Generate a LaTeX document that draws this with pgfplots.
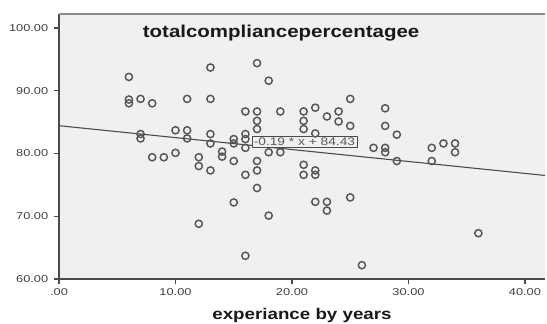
\documentclass[border=0pt]{standalone}
\usepackage{fontspec}
\setmainfont{Liberation Sans}
\usepackage{graphicx}
\usepackage{pgfplots}
\usepackage{pgfplotstable}
\pgfplotsset{compat=1.18}
\definecolor{bgc}{RGB}{240,240,240}
\definecolor{mk}{RGB}{85,85,85}
\definecolor{axc}{RGB}{75,75,75}
\definecolor{topc}{RGB}{140,140,140}
\pgfplotstableread{
x y
6 92.2
6 88.6
6 88.0
7 88.7
8 88.0
11 88.7
13 88.7
13 93.7
17 94.4
18 91.6
7 83.1
7 82.4
10 83.7
11 83.7
11 82.4
13 83.1
13 81.6
8 79.4
9 79.4
10 80.1
12 79.4
12 78.0
13 77.3
14 80.3
14 79.5
15 78.8
16 76.6
17 78.8
17 77.3
17 74.5
15 72.2
18 70.1
12 68.8
16 63.7
18 80.2
19 80.2
15 82.3
15 81.6
16 83.1
16 82.3
16 80.9
16 86.7
17 86.7
17 85.2
17 83.9
19 86.7
21 86.7
21 85.2
21 83.9
22 87.3
23 85.9
24 86.7
24 85.1
25 84.4
25 88.7
22 83.2
21 78.2
21 76.6
22 77.3
22 76.6
22 72.3
23 72.3
23 70.9
25 73.0
26 62.2
28 87.2
28 84.4
29 83.0
27 80.9
28 80.9
28 80.2
29 78.8
32 80.9
33 81.6
34 81.6
34 80.2
32 78.8
36 67.3
}\datatable
\begin{document}
\begin{tikzpicture}
\begin{axis}[
  scale only axis, width=486pt, height=265pt,
  xmin=0, xmax=41.72, ymin=60, ymax=102.23,
  axis x line*=bottom, axis y line*=left,
  axis line style={axc, line width=1.6pt, -},
  xtick={0,10,20,30,40}, xticklabels={.00,10.00,20.00,30.00,40.00},
  ytick={60,70,80,90,100}, yticklabels={60.00,70.00,80.00,90.00,100.00},
  tick align=outside, major tick length=5pt,
  tick style={axc, line width=1.2pt},
  ticklabel style={font=\fontsize{10}{12}\selectfont, text=black!75, xscale=1.28},
  xticklabel style={yshift=-1pt},
  yticklabel style={xshift=-1pt},
  axis background/.style={fill=bgc},
  clip=false,
  xlabel={experiance by years},
  xlabel style={at={(axis description cs:0.5,-0.136)}, anchor=center,
    font=\bfseries\fontsize{15.5}{18}\selectfont, xscale=1.21, text=black!90},
]
\draw[topc, line width=1.6pt] (rel axis cs:0,1) -- (rel axis cs:1,1);
\addplot[only marks, mark=o, mark size=3.6pt, mark options={mk, line width=1.45pt}] table[x=x, y=y] {\datatable};
\addplot[axc, line width=1.1pt] coordinates {(0,84.43) (41.72,76.50)};
\node[draw=axc, fill=bgc, line width=0.8pt, inner sep=1.5pt, font=\fontsize{11}{13}\selectfont, text=black!65, xscale=1.25]
  at (axis cs:21.07,81.83) {-0.19 * x + 84.43};
\node[font=\bfseries\fontsize{17.2}{20}\selectfont, xscale=1.19, text=black!90]
  at (rel axis cs:0.457,0.928) {totalcompliancepercentagee};
\end{axis}
\pgfresetboundingbox
\path ([shift={(-59pt,-45pt)}]current axis.south west) rectangle ([shift={(2pt,14pt)}]current axis.north east);
\end{tikzpicture}
\end{document}
